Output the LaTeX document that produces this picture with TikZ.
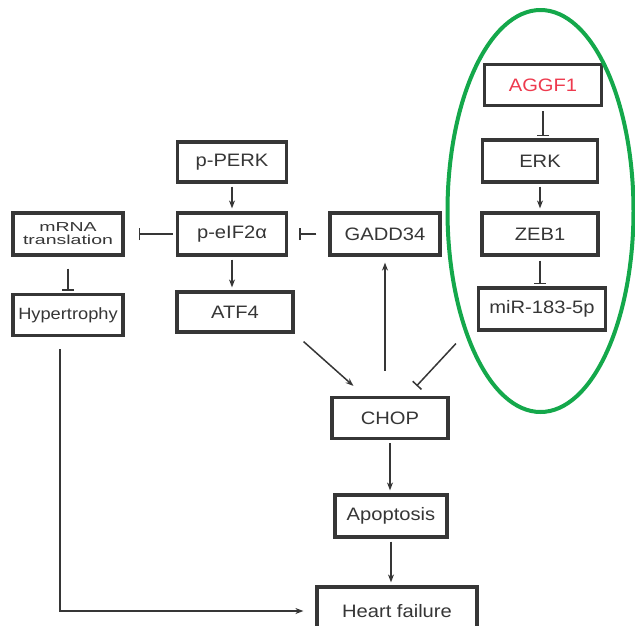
\documentclass[tikz,border=0pt]{standalone}
\usepackage{fontspec}
\setmainfont[FakeStretch=1.12]{Liberation Sans}
\newfontfamily\widefont[FakeStretch=1.5]{Liberation Sans}
\usetikzlibrary{arrows.meta,calc}
\definecolor{ink}{HTML}{363636}
\definecolor{aggred}{HTML}{EE3A4E}
\definecolor{ovalgreen}{HTML}{14A84B}
\tikzset{
  box/.style={draw=ink,line width=3.2pt,fill=white,text=ink,inner sep=1pt,
    font=\fontsize{18}{20}\selectfont},
  act/.style={draw=ink,line width=1.5pt,-{Stealth[length=8pt,width=6pt]}},
  inh/.style={draw=ink,line width=1.5pt,-{Bar[width=12pt,line width=1.5pt]}}
}

\begin{document}
\begin{tikzpicture}[x=1pt,y=-1pt]
        \useasboundingbox (0,0) rectangle (635,625);
        % left branch
        \node[box,minimum width=109pt,minimum height=40pt] (perk) at (232,162) {p-PERK};
        \node[box,minimum width=109pt,minimum height=42pt] (eif) at (232,234) {p-eIF2α};
        \node[box,minimum width=110pt,minimum height=42pt,align=center,
              font=\widefont\fontsize{13}{13}\selectfont] (mrna) at (68,234) {mRNA\\translation};
        \node[box,minimum width=110pt,minimum height=41pt,inner sep=0pt,
              font=\fontsize{16.3}{18}\selectfont] (hyper) at (68,315) {Hypertrophy};
        \node[box,minimum width=116pt,minimum height=40pt] (atf) at (235,312) {ATF4};
        \node[box,minimum width=110pt,minimum height=42pt] (gadd) at (385,234) {GADD34};
        % AGGF1 axis
        \node[box,minimum width=117pt,minimum height=41pt,text=aggred] (aggf) at (543,85) {AGGF1};
        \node[box,minimum width=115pt,minimum height=42pt] (erk) at (540,161) {ERK};
        \node[box,minimum width=116pt,minimum height=42pt] (zeb) at (540,234) {ZEB1};
        \node[box,minimum width=127pt,minimum height=42pt,inner sep=0pt] (mir) at (542,309) {miR-183-5p};
        % downstream
        \node[box,minimum width=116pt,minimum height=41pt] (chop) at (390,418) {CHOP};
        \node[box,minimum width=112pt,minimum height=42pt] (apop) at (391,516) {Apoptosis};
        \node[box,minimum width=160pt,minimum height=48pt] (hf) at (397,611) {Heart failure};
        \draw[ovalgreen,line width=4pt] (540.5,211) ellipse [x radius=93, y radius=201];

        \draw[act,shorten <=3pt,shorten >=3pt] (perk) -- (eif);
        \draw[act,shorten <=3pt,shorten >=3pt] (eif) -- (atf.north -| eif);
        \draw[inh,shorten <=3pt,shorten >=14pt] (eif) -- (mrna);
        \draw[inh,shorten <=12pt,shorten >=11pt] (gadd) -- (eif);
        \draw[inh,shorten <=12pt,shorten >=2pt] (mrna) -- (hyper);
        \draw[act] ($(hyper.south)+(-8,12)$) |- ($(hf.west)+(-12,0)$);
        \draw[act] ($(atf.south east)+(9,8)$) -- ($(chop.north west)+(23,-10)$);
        \draw[act] ([yshift=25pt]chop.north -| gadd) -- ([yshift=-6pt]gadd.south);
        \draw[inh] ($(mir.south west)+(-21,12)$) -- ($(chop.north east)+(-33,-10)$);
        \draw[act,shorten <=3pt,shorten >=3pt] (chop) -- (apop.north -| chop);
        \draw[act,shorten <=3pt,shorten >=3pt] (apop) -- (hf.north -| apop);
        \draw[inh,shorten <=4pt,shorten >=2pt] (aggf) -- (erk.north -| aggf);
        \draw[act,shorten <=3pt,shorten >=3pt] (erk) -- (zeb);
        \draw[inh,shorten <=4pt,shorten >=2pt] (zeb) -- (mir.north -| zeb);
      \end{tikzpicture}
\end{document}
